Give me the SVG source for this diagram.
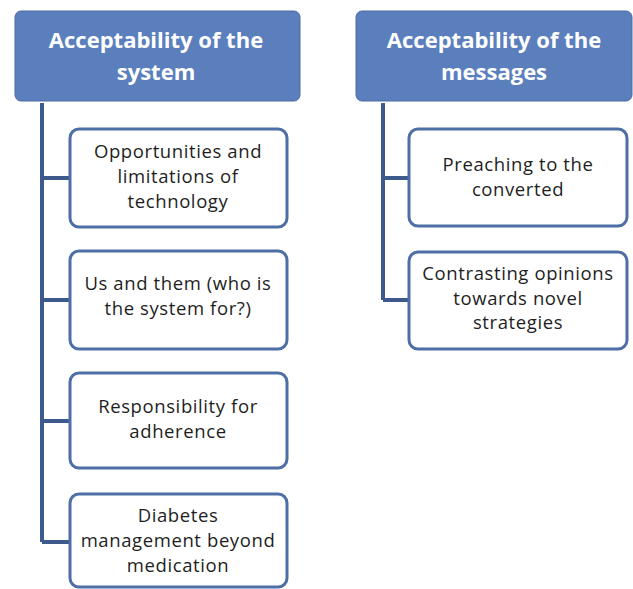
<svg xmlns="http://www.w3.org/2000/svg" width="633" height="589" viewBox="0 0 633 589">
<defs>
<style>
.hdr{fill:#5b7fbd;stroke:#4a6da6;stroke-width:1}
.hdrt{font-family:"Open Sans","Liberation Sans",sans-serif;font-size:22px;font-weight:bold;fill:#ffffff;text-anchor:middle}
.box{fill:#ffffff;stroke:#4e6fa6;stroke-width:3}
.bt{font-family:"Open Sans","Liberation Sans",sans-serif;font-size:18.5px;letter-spacing:0.6px;fill:#1e1e1e;text-anchor:middle}
.con{stroke:#3e5a8c;stroke-width:4;fill:none}
</style>
</defs>
<rect width="633" height="589" fill="#ffffff"/>
<g id="connectors">
<path class="con" d="M42 103 V542 M42 178 H70 M42 300 H70 M42 421 H70 M42 542 H70"/>
<path class="con" d="M383 103 V300 M383 178 H409 M383 300 H409"/>
</g>
<g id="h1">
<rect class="hdr" x="15" y="11" width="285" height="90" rx="6"/>
<text class="hdrt" x="156" y="48">Acceptability of the</text>
<text class="hdrt" x="156" y="80">system</text>
</g>
<g id="h2">
<rect class="hdr" x="356" y="11" width="276" height="90" rx="6"/>
<text class="hdrt" x="494" y="48">Acceptability of the</text>
<text class="hdrt" x="494" y="80">messages</text>
</g>
<g id="n1">
<rect class="box" x="70" y="129" width="217" height="98" rx="9"/>
<text class="bt" x="178" y="158">Opportunities and</text>
<text class="bt" x="178" y="183">limitations of</text>
<text class="bt" x="178" y="208">technology</text>
</g>
<g id="n2">
<rect class="box" x="70" y="251" width="217" height="98" rx="9"/>
<text class="bt" x="178" y="290">Us and them (who is</text>
<text class="bt" x="178" y="315">the system for?)</text>
</g>
<g id="n3">
<rect class="box" x="70" y="373" width="217" height="95" rx="9"/>
<text class="bt" x="178" y="413">Responsibility for</text>
<text class="bt" x="178" y="438">adherence</text>
</g>
<g id="n4">
<rect class="box" x="70" y="494" width="217" height="93" rx="9"/>
<text class="bt" x="178" y="522">Diabetes</text>
<text class="bt" x="178" y="547">management beyond</text>
<text class="bt" x="178" y="572">medication</text>
</g>
<g id="n5">
<rect class="box" x="409" y="129" width="218" height="97" rx="9"/>
<text class="bt" x="518" y="171">Preaching to the</text>
<text class="bt" x="518" y="196">converted</text>
</g>
<g id="n6">
<rect class="box" x="409" y="252" width="218" height="97" rx="9"/>
<text class="bt" x="518" y="280">Contrasting opinions</text>
<text class="bt" x="518" y="305">towards novel</text>
<text class="bt" x="518" y="329">strategies</text>
</g>
</svg>
